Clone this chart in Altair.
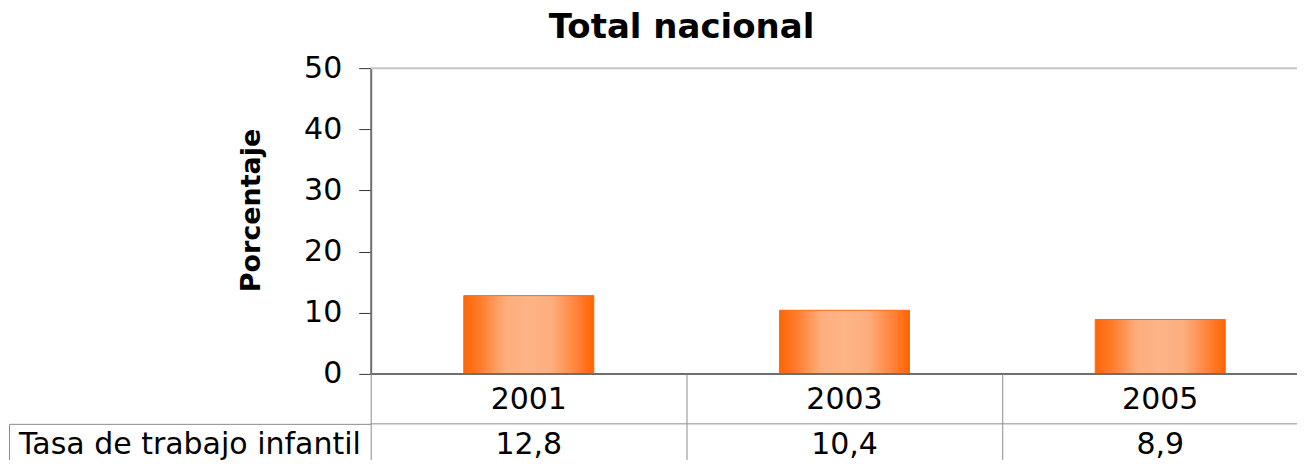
import altair as alt
import pandas as pd

years = ["2001", "2003", "2005"]
rates = [12.8, 10.4, 8.9]
row_label = "Tasa de trabajo infantil"
title_text = "Total nacional"
y_title = "Porcentaje"
y_ticks = [0, 10, 20, 30, 40, 50]
y_max = 50

df = pd.DataFrame({"year": years, "rate": rates, "row": ["v", "v", "v"]})
df_label = pd.DataFrame({"label": [row_label]})
df_blank = pd.DataFrame({"b": [""]})
df_top = pd.DataFrame({"v": [y_max]})
df_base = pd.DataFrame({"v": [0]})
df_row = pd.DataFrame({"row": ["v"]})

FONT = "DejaVu Sans"
PLOT_W = 927
LEFT_W = 362
PLOT_H = 306
YEAR_H = 50
ROW_H = 36
GRID = "#8c8c8c"
AXIS = "#6e6e6e"

gradient = alt.Gradient(
    gradient="linear",
    stops=[
        alt.GradientStop(offset=0.0, color="#ff6508"),
        alt.GradientStop(offset=0.12, color="#ff7a28"),
        alt.GradientStop(offset=0.32, color="#fdae7c"),
        alt.GradientStop(offset=0.5, color="#fdb487"),
        alt.GradientStop(offset=0.68, color="#fcae7e"),
        alt.GradientStop(offset=0.88, color="#ff8034"),
        alt.GradientStop(offset=1.0, color="#ff6400"),
    ],
    x1=0, x2=1, y1=0, y2=0,
)

# band scale: the last category band runs past the right edge of the visible plot
x_band = alt.Scale(type="band", domain=years, paddingInner=0.5882,
                   paddingOuter=0.261, align=0.5646)
BOUNDARY = -0.714   # band position of the cell borders (half a step left of the band centre)
y_scale = alt.Scale(domain=[0, y_max], nice=False)
row_scale = alt.Scale(type="band", domain=["v"], paddingInner=0, paddingOuter=0)

cell_grid_x = alt.Axis(orient="top", title=None, labels=False, ticks=False, domain=False,
                       grid=True, bandPosition=BOUNDARY, gridColor=GRID, gridWidth=1)

bars = alt.Chart(df).mark_bar(
    color=gradient, stroke="#ff6a10", strokeWidth=1,
).encode(
    x=alt.X("year:N", scale=x_band, sort=years, axis=None),
    y=alt.Y("rate:Q", scale=y_scale,
            axis=alt.Axis(values=y_ticks, title=y_title,
                          titleFont=FONT, titleFontSize=27, titleFontWeight="bold",
                          titleColor="black", titleAngle=270, titleX=-111, titleY=142,
                          titleAlign="center", titleBaseline="alphabetic",
                          labelFont=FONT, labelFontSize=30, labelColor="black",
                          labelPadding=17, labelBaseline="middle",
                          tickSize=12, tickColor="#333333", tickWidth=1,
                          domainColor=AXIS, domainWidth=2, grid=False)),
)

top_line = alt.Chart(df_top).mark_rule(color="#c4c4c4", strokeWidth=2).encode(
    y=alt.Y("v:Q", scale=y_scale)
)
base_line = alt.Chart(df_base).mark_rule(color=AXIS, strokeWidth=2).encode(
    y=alt.Y("v:Q", scale=y_scale)
)

bar_panel = alt.layer(top_line, bars, base_line).properties(width=PLOT_W, height=PLOT_H)

blank1 = alt.Chart(df_blank).mark_text().encode(text="b:N").properties(width=LEFT_W, height=PLOT_H)
blank2 = alt.Chart(df_blank).mark_text().encode(text="b:N").properties(width=LEFT_W, height=YEAR_H)

years_cell = alt.Chart(df).mark_text(font=FONT, fontSize=30, color="black", dy=1).encode(
    x=alt.X("year:N", sort=years, scale=x_band, axis=cell_grid_x),
    text="year:N",
).properties(width=PLOT_W, height=YEAR_H)

label_cell = alt.Chart(df_label).mark_text(
    font=FONT, fontSize=30, color="black", dy=3
).encode(
    x=alt.X("label:N", scale=alt.Scale(type="band", paddingInner=0, paddingOuter=0),
            axis=alt.Axis(orient="top", title=None, labels=False, ticks=False, domain=False,
                          grid=True, bandPosition=0, gridColor=GRID, gridWidth=1)),
    y=alt.Y("label:N", scale=alt.Scale(type="band", paddingInner=0, paddingOuter=0),
            axis=alt.Axis(orient="left", title=None, labels=False, ticks=False, domain=False,
                          grid=True, bandPosition=0, gridColor=GRID, gridWidth=1)),
    text="label:N",
).properties(width=LEFT_W, height=ROW_H)

values_text = alt.Chart(df).transform_calculate(
    txt="replace(format(datum.rate, '.1f'), '.', ',')"
).mark_text(font=FONT, fontSize=30, color="black", dy=3).encode(
    x=alt.X("year:N", sort=years, scale=x_band, axis=cell_grid_x),
    y=alt.Y("row:N", scale=row_scale, axis=None),
    text="txt:N",
)
values_top = alt.Chart(df_row).mark_rule(color=GRID, strokeWidth=1).encode(
    y=alt.Y("row:N", scale=row_scale, bandPosition=0, axis=None),
)
values_cell = alt.layer(values_top, values_text).properties(width=PLOT_W, height=ROW_H)

chart = alt.concat(
    blank1, bar_panel, blank2, years_cell, label_cell, values_cell,
    columns=2, spacing=0, bounds="flush",
    title=alt.TitleParams(title_text, font=FONT, fontSize=34, fontWeight="bold",
                          color="black", anchor="middle", dx=28, dy=-4),
).configure_view(strokeWidth=0).properties(
    padding={"left": 1, "top": 3, "right": 0, "bottom": 0}
)

chart.save("out.html", embed_options={"renderer": "svg", "actions": False})
